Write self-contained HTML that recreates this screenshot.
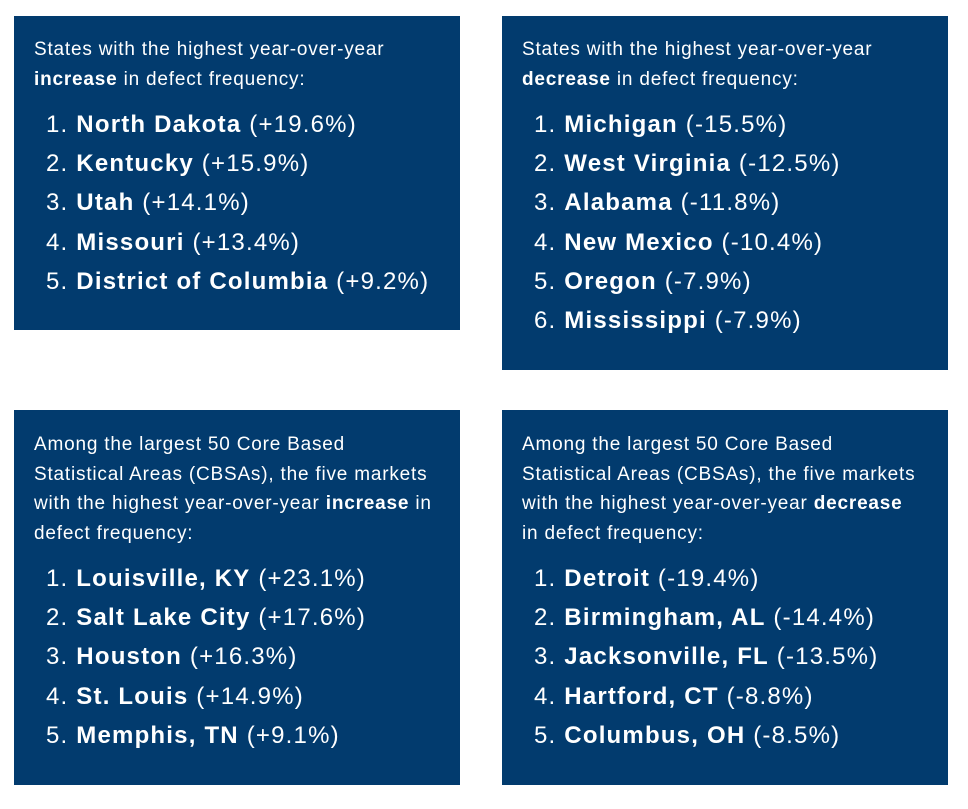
<!DOCTYPE html>
<html><head><style>
body{margin:0;width:968px;height:809px;background:#fff;position:relative;font-family:"Liberation Sans",sans-serif;color:#fff;overflow:hidden}
.b{position:absolute;background:#023b6e;width:446px}
.h{position:absolute;left:20px;font-size:19px;letter-spacing:0.8px;line-height:29.6px;white-space:nowrap}
.l{position:absolute;left:32px;font-size:24px;letter-spacing:1.2px;line-height:39.2px;white-space:nowrap}
b{font-weight:bold}
</style></head><body>
<div class="b" style="left:14px;top:16px;height:314px">
<div class="h" style="top:19px">States with the highest year-over-year<br><b>increase</b> in defect frequency:</div>
<div class="l" style="top:89px">1. <b>North Dakota</b> (+19.6%)<br>2. <b>Kentucky</b> (+15.9%)<br>3. <b>Utah</b> (+14.1%)<br>4. <b>Missouri</b> (+13.4%)<br>5. <b>District of Columbia</b> (+9.2%)</div>
</div>
<div class="b" style="left:502px;top:16px;height:354px">
<div class="h" style="top:19px">States with the highest year-over-year<br><b>decrease</b> in defect frequency:</div>
<div class="l" style="top:89px">1. <b>Michigan</b> (-15.5%)<br>2. <b>West Virginia</b> (-12.5%)<br>3. <b>Alabama</b> (-11.8%)<br>4. <b>New Mexico</b> (-10.4%)<br>5. <b>Oregon</b> (-7.9%)<br>6. <b>Mississippi</b> (-7.9%)</div>
</div>
<div class="b" style="left:14px;top:410px;height:375px">
<div class="h" style="top:20px">Among the largest 50 Core Based<br>Statistical Areas (CBSAs), the five markets<br>with the highest year-over-year <b>increase</b> in<br>defect frequency:</div>
<div class="l" style="top:149px">1. <b>Louisville, KY</b> (+23.1%)<br>2. <b>Salt Lake City</b> (+17.6%)<br>3. <b>Houston</b> (+16.3%)<br>4. <b>St. Louis</b> (+14.9%)<br>5. <b>Memphis, TN</b> (+9.1%)</div>
</div>
<div class="b" style="left:502px;top:410px;height:375px">
<div class="h" style="top:20px">Among the largest 50 Core Based<br>Statistical Areas (CBSAs), the five markets<br>with the highest year-over-year <b>decrease</b><br>in defect frequency:</div>
<div class="l" style="top:149px">1. <b>Detroit</b> (-19.4%)<br>2. <b>Birmingham, AL</b> (-14.4%)<br>3. <b>Jacksonville, FL</b> (-13.5%)<br>4. <b>Hartford, CT</b> (-8.8%)<br>5. <b>Columbus, OH</b> (-8.5%)</div>
</div>
</body></html>
